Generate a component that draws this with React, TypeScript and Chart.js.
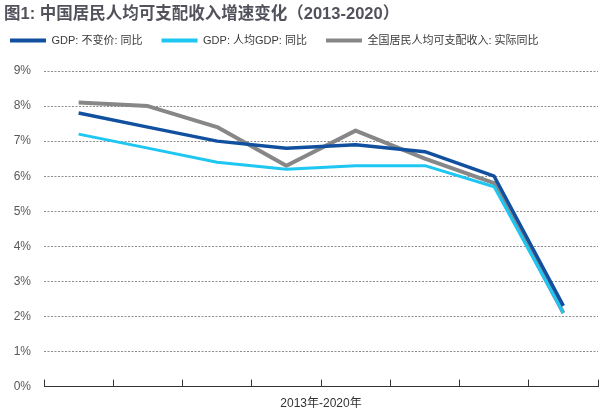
import React, { useEffect, useRef } from 'react';
import { Chart, registerables } from 'chart.js';

Chart.register(...registerables);

const titleText = '图1: 中国居民人均可支配收入增速变化（2013-2020）';
const years = ['2013', '2014', '2015', '2016', '2017', '2018', '2019', '2020'];
const seriesNames = ['GDP: 不变价: 同比', 'GDP: 人均GDP: 同比', '全国居民人均可支配收入: 实际同比'];
const gdpConstant = [7.8, 7.4, 7.0, 6.8, 6.9, 6.7, 6.0, 2.3];
const gdpPerCapita = [7.2, 6.8, 6.4, 6.2, 6.3, 6.3, 5.7, 2.1];
const incomeReal = [8.1, 8.0, 7.4, 6.3, 7.3, 6.5, 5.8, 2.1];
const seriesColors = ['#10509f', '#1ec6f2', '#878787'];
const seriesWidths = [3.5, 3, 4];
const xAxisTitle = '2013年-2020年';
const yMin = 0;
const yMax = 9;
const yStep = 1;

const FONT = '"Liberation Sans", "Noto Sans CJK SC", sans-serif';

export default function App() {
  const ref = useRef<HTMLCanvasElement | null>(null);

  useEffect(() => {
    document.body.style.margin = '0';
    const canvas = ref.current;
    if (!canvas) return;
    const values = [gdpConstant, gdpPerCapita, incomeReal];
    const legendSpacer = {
      id: 'legendSpacer',
      afterInit(chart: any) {
        const legend = chart.legend;
        if (!legend) return;
        const origFit = legend.fit;
        legend.fit = function () {
          origFit.call(this);
          this.height += 15;
        };
      },
    };
    const chart = new Chart(canvas, {
      type: 'line',
      data: {
        labels: years,
        datasets: seriesNames.map((name, i) => ({
          label: name,
          data: values[i],
          borderColor: seriesColors[i],
          backgroundColor: seriesColors[i],
          borderWidth: seriesWidths[i],
          pointRadius: 0,
          tension: 0,
          fill: false,
          borderJoinStyle: 'round' as const,
        })),
      },
      options: {
        animation: false,
        responsive: false,
        maintainAspectRatio: false,
        layout: { padding: { left: -9, right: 8, top: 16, bottom: 0 } },
        plugins: {
          tooltip: { enabled: false },
          title: { display: false },
          legend: {
            display: true,
            position: 'top',
            align: 'start',
            labels: {
              boxWidth: 36,
              boxHeight: 4,
              padding: 19,
              color: '#3a3a3a',
              font: { family: FONT, size: 11 },
              generateLabels: (c: any) =>
                (Chart.defaults.plugins.legend.labels.generateLabels as any)(c).map((l: any) => ({
                  ...l,
                  lineWidth: 0,
                  fillStyle: l.strokeStyle,
                })),
            },
          },
        },
        scales: {
          x: {
            type: 'category',
            offset: true,
            grid: {
              display: true,
              drawOnChartArea: false,
              drawTicks: true,
              tickLength: -7,
              color: '#333333',
              offset: true,
            },
            border: { display: true, color: '#333333', width: 1 },
            ticks: { display: false },
            title: {
              display: true,
              text: xAxisTitle,
              color: '#333333',
              font: { family: FONT, size: 12 },
              padding: { top: 17, bottom: 1 },
            },
          },
          y: {
            min: yMin,
            max: yMax,
            afterFit: (s: any) => {
              s.width = 53;
            },
            ticks: {
              stepSize: yStep,
              padding: 13,
              color: '#595959',
              font: { family: FONT, size: 12 },
              callback: (v: any) => `${v}%`,
            },
            grid: {
              color: '#8c8c8c',
              lineWidth: 1,
              drawTicks: false,
            },
            border: { display: false, dash: [2, 1.5] },
          },
        },
      },
      plugins: [legendSpacer],
    });
    return () => chart.destroy();
  }, []);

  return (
    <div style={{ position: 'relative', width: 606, height: 412, background: '#ffffff' }}>
      <canvas ref={ref} width={606} height={412} style={{ position: 'absolute', left: 0, top: 0 }} />
      <div
        style={{
          position: 'absolute',
          left: 4,
          top: 2,
          fontFamily: FONT,
          fontWeight: 'bold',
          fontSize: 16.5,
          lineHeight: '22px',
          color: '#52525c',
          whiteSpace: 'nowrap',
        }}
      >
        {titleText}
      </div>
    </div>
  );
}
